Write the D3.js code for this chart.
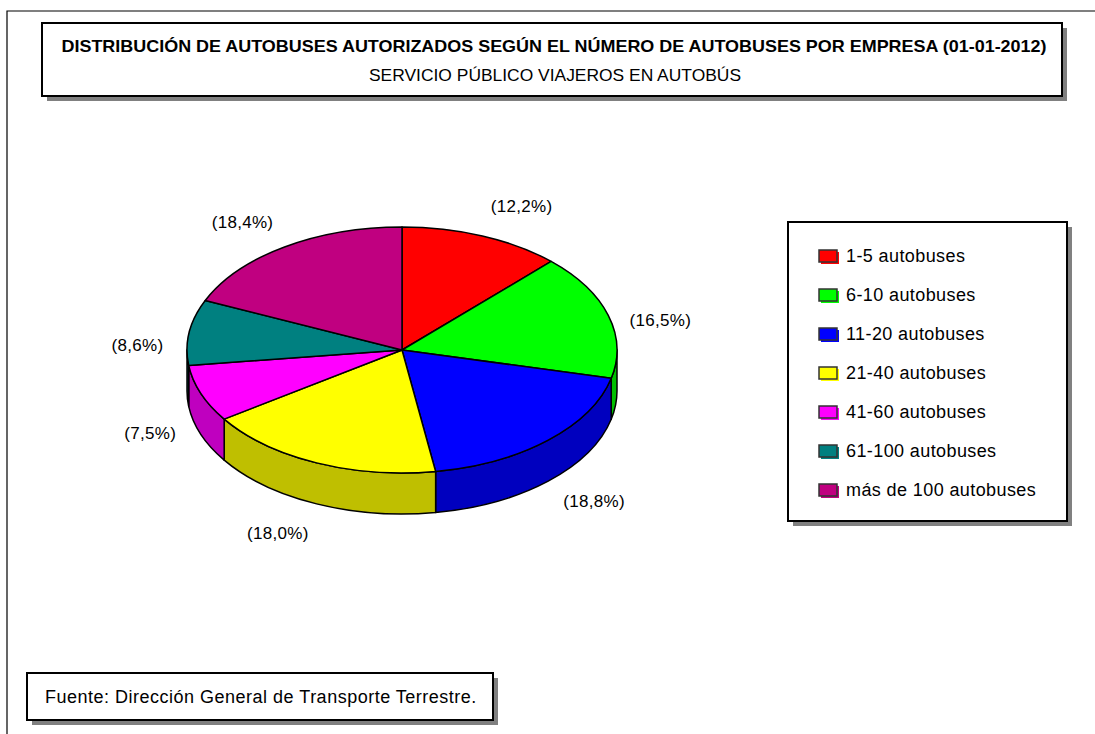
<!DOCTYPE html>
<html>
<head>
<meta charset="utf-8">
<script src="https://cdn.jsdelivr.net/npm/d3@7"></script>
<style>
    body { margin: 0; background: #fff; }
    text { font-family: Arial, "Liberation Sans", sans-serif; fill: #000; }
</style>
</head>
<body>
<svg id="chart" width="1095" height="734"></svg>
<script>
'use strict';

var title = 'DISTRIBUCIÓN DE AUTOBUSES AUTORIZADOS SEGÚN EL NÚMERO DE AUTOBUSES POR EMPRESA (01-01-2012)',
    subtitle = 'SERVICIO PÚBLICO VIAJEROS EN AUTOBÚS',
    source = 'Fuente: Dirección General de Transporte Terrestre.';

var categories = ['1-5 autobuses', '6-10 autobuses', '11-20 autobuses', '21-40 autobuses',
                  '41-60 autobuses', '61-100 autobuses', 'más de 100 autobuses'];
var shares = [12.2, 16.5, 18.8, 18.0, 7.5, 8.6, 18.4];
var colors = ['#ff0000', '#00ff00', '#0000ff', '#ffff00', '#ff00ff', '#008080', '#c00080'];

window.addEventListener('load', function () {
    var svg = d3.select('#chart');

    // outer frame (only top and left edges visible)
    svg.append('path')
        .attr('d', 'M7,734 L7,11 L1095,11')
        .attr('fill', 'none')
        .attr('stroke', '#000')
        .attr('stroke-width', 1.2);

    function shadowBox(x, y, w, h) {
        svg.append('rect')
            .attr('x', x + 5).attr('y', y + 5)
            .attr('width', w).attr('height', h)
            .attr('fill', '#808080');
        svg.append('rect')
            .attr('x', x).attr('y', y)
            .attr('width', w).attr('height', h)
            .attr('fill', '#fff')
            .attr('stroke', '#000')
            .attr('stroke-width', 2);
    }

    // title box
    shadowBox(42, 23, 1020, 73);
    svg.append('text')
        .attr('x', 554).attr('y', 52)
        .attr('text-anchor', 'middle')
        .attr('font-size', 16.5).attr('font-weight', 'bold')
        .attr('textLength', 985).attr('lengthAdjust', 'spacingAndGlyphs')
        .text(title);
    svg.append('text')
        .attr('x', 555).attr('y', 81)
        .attr('text-anchor', 'middle')
        .attr('font-size', 16.5)
        .attr('textLength', 372).attr('lengthAdjust', 'spacingAndGlyphs')
        .text(subtitle);

    // 3d pie
    var cx = 402, cy = 350, rx = 215, ry = 123, depth = 41;
    var pie = d3.pie().sort(null).value(function (d) { return d; });
    var arcs = pie(shares);

    function pt(a, dy) {
        return [cx + rx * Math.sin(a), cy - ry * Math.cos(a) + (dy || 0)];
    }

    var sideColor = function (c) {
        var k = d3.rgb(c);
        return d3.rgb(k.r * 0.75, k.g * 0.75, k.b * 0.75).toString();
    };

    var sides = svg.append('g'), tops = svg.append('g');

    arcs.forEach(function (d, i) {
        var b0 = Math.max(d.startAngle, Math.PI / 2),
            b1 = Math.min(d.endAngle, 3 * Math.PI / 2);
        if (b1 > b0) {
            var p0 = pt(b0), p1 = pt(b1), q1 = pt(b1, depth), q0 = pt(b0, depth);
            sides.append('path')
                .attr('d', 'M' + p0 + ' A' + rx + ',' + ry + ' 0 0 1 ' + p1 +
                    ' L' + q1 + ' A' + rx + ',' + ry + ' 0 0 0 ' + q0 + ' Z')
                .attr('fill', sideColor(colors[i]))
                .attr('stroke', '#000')
                .attr('stroke-width', 1.5)
                .attr('stroke-linejoin', 'round');
        }
        var s = pt(d.startAngle), e = pt(d.endAngle),
            large = (d.endAngle - d.startAngle) > Math.PI ? 1 : 0;
        tops.append('path')
            .attr('d', 'M' + cx + ',' + cy + ' L' + s + ' A' + rx + ',' + ry + ' 0 ' + large + ' 1 ' + e + ' Z')
            .attr('fill', colors[i])
            .attr('stroke', '#000')
            .attr('stroke-width', 1.5)
            .attr('stroke-linejoin', 'round');
    });

    // percentage labels
    arcs.forEach(function (d, i) {
        var m = (d.startAngle + d.endAngle) / 2,
            sn = Math.sin(m), cs = Math.cos(m),
            lx = cx + (rx + 22) * sn + (sn >= 0 ? 31 : -30),
            ly = cy - (ry + 22) * cs + depth * (1 - cs) / 2 - cs * 12;
        svg.append('text')
            .attr('x', lx).attr('y', ly)
            .attr('dy', '0.35em')
            .attr('text-anchor', 'middle')
            .attr('font-size', 17)
            .attr('letter-spacing', 0.3)
            .text('(' + shares[i].toFixed(1).replace('.', ',') + '%)');
    });

    // legend
    shadowBox(788, 222, 279, 299);
    var rowY = d3.scaleLinear().domain([0, categories.length - 1]).range([256, 490]);
    var legend = svg.append('g');
    categories.forEach(function (c, i) {
        var y = rowY(i);
        legend.append('rect')
            .attr('x', 821).attr('y', y - 4)
            .attr('width', 18).attr('height', 12)
            .attr('fill', colors[i]);
        legend.append('rect')
            .attr('x', 819).attr('y', y - 6)
            .attr('width', 18).attr('height', 12)
            .attr('fill', colors[i])
            .attr('stroke', '#333')
            .attr('stroke-width', 1.5);
        legend.append('text')
            .attr('x', 846).attr('y', y)
            .attr('dy', '0.35em')
            .attr('font-size', 18)
            .attr('letter-spacing', 0.4)
            .text(c);
    });

    // source box
    shadowBox(27, 673, 466, 47);
    svg.append('text')
        .attr('x', 45).attr('y', 697)
        .attr('dy', '0.35em')
        .attr('font-size', 18)
        .attr('letter-spacing', 0.5)
        .text(source);
});
</script>
</body>
</html>
